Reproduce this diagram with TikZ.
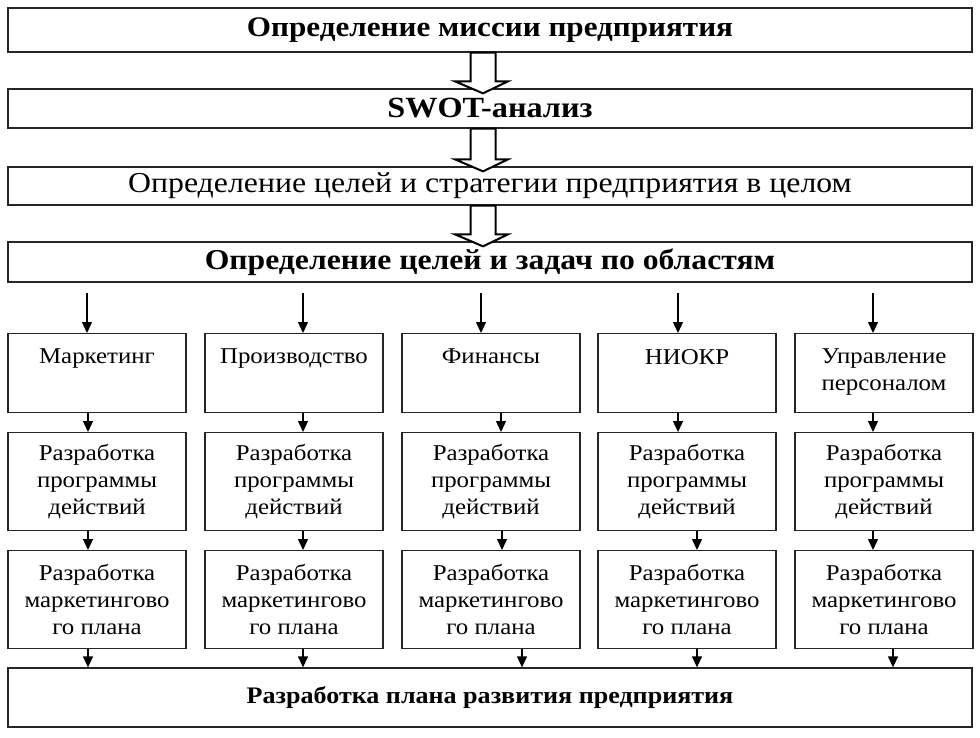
\documentclass[tikz,border=0pt]{standalone}
\usepackage{fontspec}
\setmainfont{Liberation Serif}[FakeStretch=1.1]
\usetikzlibrary{arrows.meta,calc}
\begin{document}
\begin{tikzpicture}[x=1pt,y=-1pt,
  box/.style={draw=black!85,line width=1.3pt,fill=white,inner sep=0pt},
  wide/.style={box,minimum width=964pt},
  cbox/.style={box,minimum width=178pt,anchor=north},
  btitle/.style={font=\fontsize{28.3}{30}\selectfont\bfseries},
  ctext/.style={font=\fontsize{22.6}{27}\selectfont,align=center,inner sep=0pt},
  arr/.style={line width=1.3pt,-{Triangle[length=11pt,width=10pt]}},
  hollow/.style={draw=black,line width=2pt,fill=white,line join=miter}
]
\useasboundingbox (0,0) rectangle (980,738);
\fill[white] (0,0) rectangle (980,738);
% wide boxes
\node[wide,minimum height=44pt,btitle] (b1) at (490,30) {Определение миссии предприятия};
\node[wide,minimum height=39pt,btitle,font=\fontsize{29.3}{30}\selectfont\bfseries] (b2) at (490,108.5) {SWOT-анализ};
\node[wide,minimum height=38pt,font=\fontsize{28.9}{30}\selectfont] (b3) at (490,186) {Определение целей и стратегии предприятия в целом};
\node[wide,minimum height=40pt,btitle,font=\fontsize{28.8}{30}\selectfont\bfseries] (b4) at (490,262) {Определение целей и задач по областям};
\node[wide,minimum height=59pt,font=\fontsize{23.7}{26}\selectfont\bfseries] (bot) at (490,697.5) {Разработка плана развития предприятия};
% hollow arrows
\foreach \a/\b in {b1/b2,b2/b3,b3/b4}{
  \path[hollow] ($(\a.south)+(-19.5,0)$) -- ($(\a.south)+(5.5,0)$)
     -- ($(\b.north)+(5.5,-7)$) -- ($(\b.north)+(18,-7)$)
     -- ($(\b.north)+(-7,5)$) -- ($(\b.north)+(-35,-7)$)
     -- ($(\b.north)+(-19.5,-7)$) -- cycle;
}
% columns
\foreach \i/\cx in {1/97,2/294,3/491,4/687,5/884}{
  \node[cbox,minimum height=79pt] (m\i) at (\cx,333) {};
  \node[cbox,minimum height=98pt] (r\i) at (\cx,432) {};
  \node[cbox,minimum height=98pt] (p\i) at (\cx,550) {};
  \node[ctext] (rt\i) at (r\i.center) {Разработка\\программы\\действий};
  \node[ctext] (pt\i) at (p\i.center) {Разработка\\маркетингово\\го плана};
}
\node[ctext,anchor=north] (mt1) at ($(m1.north)+(0,16)$) {Маркетинг};
\node[ctext,anchor=north] (mt2) at ($(m2.north)+(0,16)$) {Производство};
\node[ctext,anchor=north] (mt3) at ($(m3.north)+(0,16)$) {Финансы};
\node[ctext,anchor=north] (mt4) at ($(m4.north)+(0,16)$) {НИОКР};
\node[ctext,anchor=north] (mt5) at ($(m5.north)+(0,16)$) {Управление\\персоналом};
% small arrows
\foreach \i/\dt/\da/\db/\dc in {1/-10/-9/-9/-9,2/9/9/9/9,3/-10/10/11/31,4/-9/-9/10/10,5/-11/-11/-11/9}{
  \coordinate (s\i) at ($(m\i.north)+(\dt,-40)$);
  \draw[arr] (s\i) -- ($(m\i.north)+(\dt,0)$);
  \coordinate (u\i) at ($(m\i.south)+(\da,0)$);
  \draw[arr] (u\i) -- (u\i |- r\i.north);
  \coordinate (v\i) at ($(r\i.south)+(\db,0)$);
  \draw[arr] (v\i) -- (v\i |- p\i.north);
  \coordinate (w\i) at ($(p\i.south)+(\dc,0)$);
  \draw[arr] (w\i) -- (w\i |- bot.north);
}
\end{tikzpicture}
\end{document}
